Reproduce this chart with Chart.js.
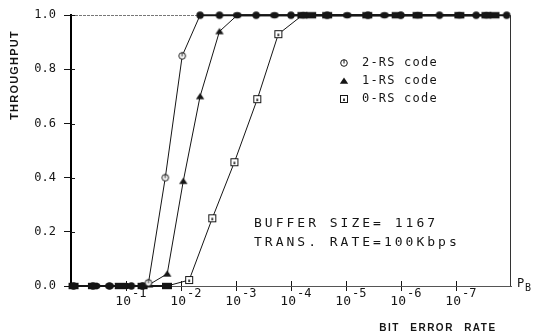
<!DOCTYPE html>
<html><head><meta charset="utf-8">
<script src="https://cdn.jsdelivr.net/npm/chart.js@4"></script>
<style>html,body{margin:0;padding:0;background:#fff;}canvas{display:block;}</style>
</head><body>
<canvas id="c" width="547" height="336"></canvas>
<script>
// ---- data ----
const seriesNames = ['2-RS code', '1-RS code', '0-RS code'];

const ber2RS = [0.9, 0.4, 0.2, 0.08, 0.05, 0.039, 0.0193, 0.0095, 0.0045, 0.002, 4.3e-4, 1e-4, 2.2e-5, 4e-6, 1e-6, 2e-7, 4.3e-8, 1.2e-8];
const thr2RS = [0, 0, 0, 0, 0, 0.012, 0.40, 0.85, 1.0, 1.0, 1.0, 1.0, 1.0, 1.0, 1.0, 1.0, 1.0, 1.0];

const ber1RS = [0.9, 0.35, 0.2, 0.1, 0.05, 0.038, 0.0178, 0.0091, 0.0045, 0.002, 9.5e-4, 2e-4, 6e-5, 9.5e-6, 2e-6, 5e-7, 8.7e-8, 2.8e-8];
const thr1RS = [0, 0, 0, 0, 0, 0.005, 0.045, 0.387, 0.70, 0.94, 1.0, 1.0, 1.0, 1.0, 1.0, 1.0, 1.0, 1.0];

const ber0RS = [0.9, 0.4, 0.13, 0.05, 0.018, 0.0071, 0.0027, 0.00107, 4.1e-4, 1.7e-4, 6.2e-5, 4.3e-5, 2.2e-5, 4.1e-6, 1.2e-6, 5e-7, 8.7e-8, 2.8e-8, 2e-8];
const thr0RS = [0, 0, 0, 0, 0, 0.022, 0.25, 0.457, 0.69, 0.93, 1.0, 1.0, 1.0, 1.0, 1.0, 1.0, 1.0, 1.0, 1.0];

const xTickExponents = [-1, -2, -3, -4, -5, -6, -7];
const yTickValues = [0, 0.2, 0.4, 0.6, 0.8, 1.0];
const yTickLabels = ['0.0', '0.2', '0.4', '0.6', '0.8', '1.0'];
const yTitle = 'THROUGHPUT';
const xTitle = 'BIT ERROR RATE';
const xUnitMain = 'P';
const xUnitSub = 'B';
const noteLines = ['BUFFER SIZE= 1167', 'TRANS. RATE=100Kbps'];

// ---- marker glyphs ----
const INK = '#151515';
function glyph(draw) {
  const c = document.createElement('canvas');
  c.width = 12; c.height = 12;
  const g = c.getContext('2d');
  g.translate(6, 6);
  g.strokeStyle = INK; g.fillStyle = INK; g.lineWidth = 1;
  draw(g);
  return c;
}
const circOpen = glyph(g => {
  g.beginPath(); g.arc(0, 0, 3.3, 0, Math.PI * 2);
  g.fillStyle = '#fff'; g.fill(); g.stroke();
  g.beginPath(); g.moveTo(0, -3.3); g.lineTo(0, 0.5); g.stroke();
});
const circFill = glyph(g => { g.beginPath(); g.arc(0, 0, 3.7, 0, Math.PI * 2); g.fill(); });
const triFill = glyph(g => { g.beginPath(); g.moveTo(0, -3.5); g.lineTo(4.2, 2.8); g.lineTo(-4.2, 2.8); g.closePath(); g.fill(); });
const triBlob = glyph(g => { g.beginPath(); g.ellipse(0, 0, 4.2, 3.3, 0, 0, Math.PI * 2); g.fill(); });
const sqOpen = glyph(g => {
  g.fillStyle = '#fff'; g.fillRect(-3.5, -3.5, 7, 7);
  g.strokeRect(-3.5, -3.5, 7, 7);
  g.fillStyle = INK; g.fillRect(-0.8, -0.5, 1.6, 2.5);
});
const sqFill = glyph(g => { g.fillRect(-5, -3.2, 10, 6.4); });

function styleFor(open, filled) {
  return ctx => {
    const v = ctx.raw ? ctx.raw.y : 0.5;
    return (v >= 0.999 || v <= 0.001) ? filled : open;
  };
}
function pts(xs, ys) { return xs.map((x, i) => ({ x: x, y: ys[i] })); }
const segW = ctx => {
  const a = ctx.p0.parsed.y, b = ctx.p1.parsed.y;
  return ((a >= 0.999 && b >= 0.999) || (a <= 0.001 && b <= 0.001)) ? 2 : 1;
};

const datasets = [
  { label: seriesNames[0], data: pts(ber2RS, thr2RS), pointStyle: styleFor(circOpen, circFill) },
  { label: seriesNames[1], data: pts(ber1RS, thr1RS), pointStyle: styleFor(triFill, triBlob) },
  { label: seriesNames[2], data: pts(ber0RS, thr0RS), pointStyle: styleFor(sqOpen, sqFill) }
].map(d => Object.assign(d, {
  showLine: true, borderColor: INK, borderWidth: 1, clip: false,
  pointRadius: 4, pointHoverRadius: 4, tension: 0,
  segment: { borderWidth: segW }
}));

const legendGlyphs = [circOpen, triFill, sqOpen];

const decor = {
  id: 'decor',
  beforeDatasetsDraw(chart) {
    const { ctx, chartArea: a, scales } = chart;
    const x = scales.x, y = scales.y;
    ctx.save();
    // top frame line
    ctx.strokeStyle = '#777'; ctx.lineWidth = 1; ctx.setLineDash([3, 1]);
    ctx.beginPath(); ctx.moveTo(a.left, Math.round(a.top) + 0.5); ctx.lineTo(a.right, Math.round(a.top) + 0.5); ctx.stroke();
    // right frame line
    ctx.setLineDash([]); ctx.strokeStyle = '#333';
    ctx.beginPath(); ctx.moveTo(Math.round(a.right) - 0.5, a.top); ctx.lineTo(Math.round(a.right) - 0.5, a.bottom); ctx.stroke();
    // inner halves of the cross ticks
    ctx.strokeStyle = INK;
    xTickExponents.forEach(e => {
      const px = Math.round(x.getPixelForValue(Math.pow(10, e))) + 0.5;
      ctx.beginPath(); ctx.moveTo(px, a.bottom); ctx.lineTo(px, a.bottom - 5); ctx.stroke();
    });
    yTickValues.forEach(v => {
      const py = Math.round(y.getPixelForValue(v)) + 0.5;
      ctx.beginPath(); ctx.moveTo(a.left, py); ctx.lineTo(a.left + 4, py); ctx.stroke();
    });
    ctx.restore();
  },
  afterDraw(chart) {
    const { ctx, chartArea: a, scales } = chart;
    const x = scales.x;
    ctx.save();
    ctx.fillStyle = INK;
    // x tick labels 10^-n
    xTickExponents.forEach(e => {
      const px = x.getPixelForValue(Math.pow(10, e));
      ctx.font = '13px "DejaVu Sans Mono"';
      ctx.textAlign = 'right'; ctx.textBaseline = 'middle';
      ctx.fillText('10', px + 5, a.bottom + 16);
      ctx.font = '12px "DejaVu Sans Mono"';
      ctx.textAlign = 'left';
      ctx.fillText(String(e), px + 6, a.bottom + 8);
    });
    // P_B
    ctx.font = '12px "DejaVu Sans Mono"'; ctx.textAlign = 'left'; ctx.textBaseline = 'alphabetic';
    ctx.fillText(xUnitMain, a.right + 6, a.bottom + 1);
    ctx.font = '10px "DejaVu Sans Mono"';
    ctx.fillText(xUnitSub, a.right + 14, a.bottom + 5);
    // axis titles
    ctx.font = 'bold 10px "Liberation Sans"';
    ctx.letterSpacing = '1.5px'; ctx.wordSpacing = '6px';
    ctx.textAlign = 'center'; ctx.textBaseline = 'middle';
    ctx.fillText(xTitle, 438, 328);
    ctx.save();
    ctx.translate(15, 75); ctx.rotate(-Math.PI / 2);
    ctx.font = 'bold 11px "Liberation Sans"';
    ctx.letterSpacing = '1.2px';
    ctx.fillText(yTitle, 0, 0);
    ctx.restore();
    // legend
    ctx.letterSpacing = '1.2px'; ctx.wordSpacing = '0px';
    ctx.font = '12px "DejaVu Sans Mono"'; ctx.textAlign = 'left'; ctx.textBaseline = 'middle';
    seriesNames.forEach((n, i) => {
      const ly = 63 + i * 18;
      ctx.drawImage(legendGlyphs[i], 344 - 6, ly - 6);
      ctx.fillText(n, 362, ly);
    });
    // note
    ctx.font = '13px "DejaVu Sans Mono"'; ctx.letterSpacing = '3px';
    noteLines.forEach((t, i) => ctx.fillText(t, 254, 224 + i * 19));
    ctx.restore();
  }
};

new Chart(document.getElementById('c'), {
  type: 'scatter',
  data: { datasets },
  options: {
    responsive: false, animation: false, devicePixelRatio: 1,
    layout: { padding: { left: 0, right: 36, top: 14, bottom: 50 } },
    plugins: { legend: { display: false }, tooltip: { enabled: false } },
    scales: {
      x: {
        type: 'logarithmic', reverse: true, min: 1e-8, max: 1,
        afterBuildTicks: s => { s.ticks = xTickExponents.map(e => ({ value: Math.pow(10, e) })); },
        afterFit: s => { s.height = 0; },
        ticks: { display: false },
        grid: { drawOnChartArea: false, drawTicks: true, tickLength: 5, color: INK, lineWidth: 1 },
        border: { display: true, color: '#555', width: 1, dash: [3, 1] }
      },
      y: {
        min: 0, max: 1,
        afterBuildTicks: s => { s.ticks = yTickValues.map(v => ({ value: v })); },
        afterFit: s => { s.width = 71; },
        ticks: {
          padding: 8, color: INK,
          font: { family: '"DejaVu Sans Mono"', size: 12 },
          callback: (v, i) => yTickLabels[i]
        },
        grid: { drawOnChartArea: false, drawTicks: true, tickLength: 7, color: INK, lineWidth: 1 },
        border: { display: true, color: '#000', width: 2 }
      }
    }
  },
  plugins: [decor]
});
</script>
</body></html>
